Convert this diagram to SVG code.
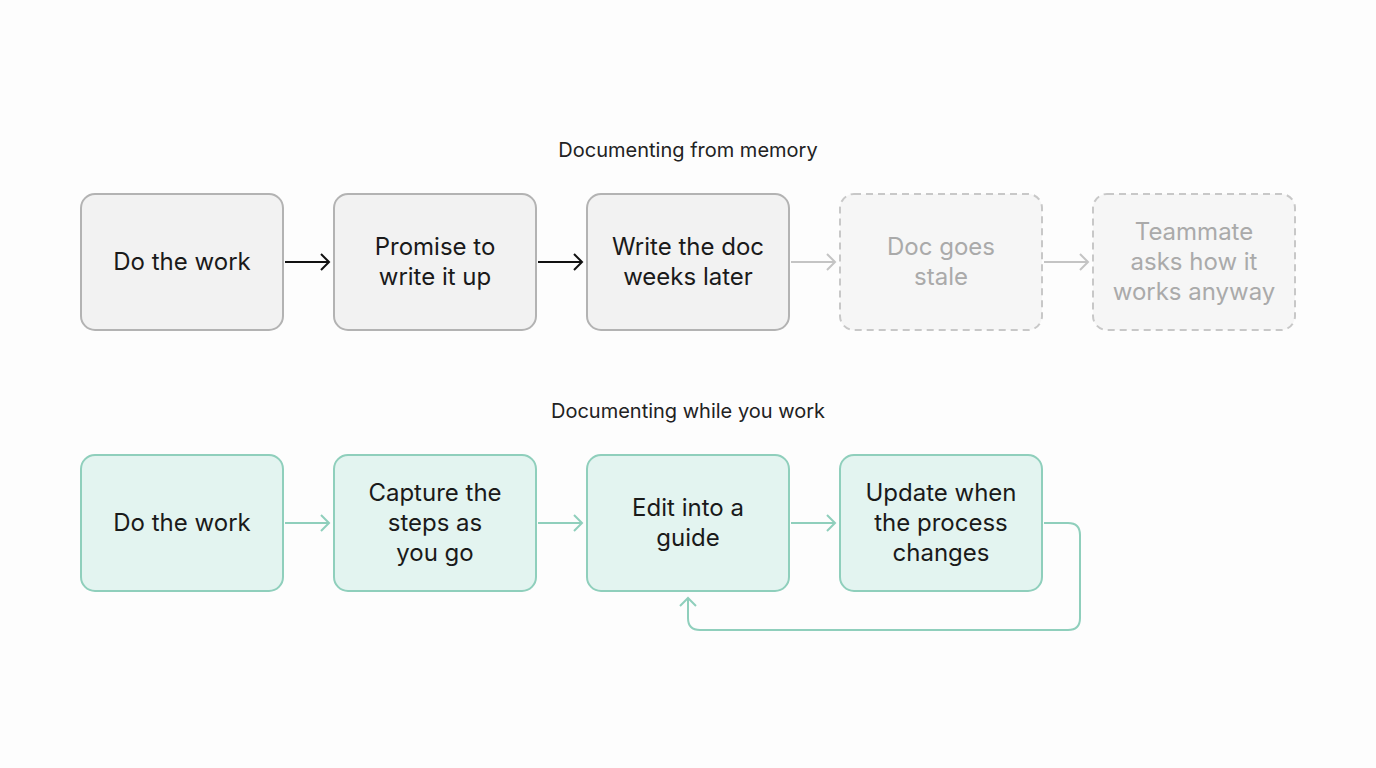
<svg xmlns="http://www.w3.org/2000/svg" width="1376" height="768" viewBox="0 0 1376 768">
<style>
text{font-family:Inter,"Noto Sans",sans-serif;text-anchor:middle}
.t{font-size:20px;fill:#222}
.n{font-size:24px;fill:#1a1a1a}
.f{font-size:24px;fill:#aaaaaa}
.g{fill:#f2f2f2;stroke:#b3b3b3;stroke-width:2}
.d{fill:#f6f6f6;stroke:#c8c8c8;stroke-width:2;stroke-dasharray:7 5}
.e{fill:#e3f4f0;stroke:#8fcfbc;stroke-width:2}
.a1{stroke:#111;stroke-width:2;fill:none}
.a2{stroke:#c4c4c4;stroke-width:2;fill:none}
.a3{stroke:#8fcfbc;stroke-width:2;fill:none}
</style>
<rect width="1376" height="768" fill="#fdfdfd"/>
<text class="t" x="688" y="157">Documenting from memory</text>
<text class="t" x="688" y="418">Documenting while you work</text>
<g id="n1"><rect class="g" x="81" y="194" width="202" height="136" rx="14"/><text class="n" x="182" y="270">Do the work</text></g>
<g id="n2"><rect class="g" x="334" y="194" width="202" height="136" rx="14"/><text class="n" x="435" y="255">Promise to</text><text class="n" x="435" y="285">write it up</text></g>
<g id="n3"><rect class="g" x="587" y="194" width="202" height="136" rx="14"/><text class="n" x="688" y="255">Write the doc</text><text class="n" x="688" y="285">weeks later</text></g>
<g id="n4"><rect class="d" x="840" y="194" width="202" height="136" rx="14"/><text class="f" x="941" y="255">Doc goes</text><text class="f" x="941" y="285">stale</text></g>
<g id="n5"><rect class="d" x="1093" y="194" width="202" height="136" rx="14"/><text class="f" x="1194" y="240">Teammate</text><text class="f" x="1194" y="270">asks how it</text><text class="f" x="1194" y="300">works anyway</text></g>
<g id="m1"><rect class="e" x="81" y="455" width="202" height="136" rx="14"/><text class="n" x="182" y="531">Do the work</text></g>
<g id="m2"><rect class="e" x="334" y="455" width="202" height="136" rx="14"/><text class="n" x="435" y="501">Capture the</text><text class="n" x="435" y="531">steps as</text><text class="n" x="435" y="561">you go</text></g>
<g id="m3"><rect class="e" x="587" y="455" width="202" height="136" rx="14"/><text class="n" x="688" y="516">Edit into a</text><text class="n" x="688" y="546">guide</text></g>
<g id="m4"><rect class="e" x="840" y="455" width="202" height="136" rx="14"/><text class="n" x="941" y="501">Update when</text><text class="n" x="941" y="531">the process</text><text class="n" x="941" y="561">changes</text></g>
<g id="connectors">
<path class="a1" d="M285 262H329M321 254l8 8-8 8"/>
<path class="a1" d="M538 262H582M574 254l8 8-8 8"/>
<path class="a2" d="M791 262H835M827 254l8 8-8 8"/>
<path class="a2" d="M1044 262H1088M1080 254l8 8-8 8"/>
<path class="a3" d="M285 523H329M321 515l8 8-8 8"/>
<path class="a3" d="M538 523H582M574 515l8 8-8 8"/>
<path class="a3" d="M791 523H835M827 515l8 8-8 8"/>
<path class="a3" d="M1044 523H1068Q1080 523 1080 535V618Q1080 630 1068 630H700Q688 630 688 618V598M680 606l8-8 8 8"/>
</g>
</svg>
